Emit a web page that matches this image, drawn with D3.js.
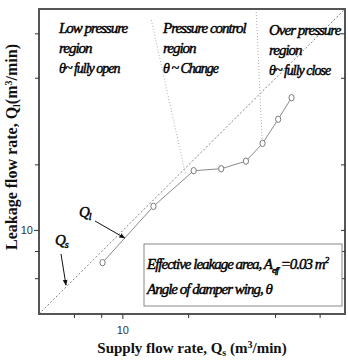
<!DOCTYPE html>
<html>
<head>
<meta charset="utf-8">
<script src="https://cdn.jsdelivr.net/npm/d3@7"></script>
<style>
  body { margin: 0; background: #fff; }
  svg text { font-family: "Liberation Serif", "Times New Roman", serif; }
  .note { font-style: italic; font-size: 15px; letter-spacing: -1px; fill: #000; stroke: #000; stroke-width: 0.45px; }
</style>
</head>
<body>
<svg id="chart" width="348" height="361"></svg>
<script>
// measured leakage vs supply flow rate (m3/min)
var supply = [8.07, 13.8, 21.1, 28.2, 36.6, 43.6, 51.4, 59.2];
var leakage = [7.11, 12.9, 18.8, 19.2, 20.8, 25.1, 32.4, 40.7];
var xTicks = [6, 8, 10, 20, 50, 80];
var yTicks = [6, 8, 10, 20, 50, 80];
var labelTicks = [10];
var axisDomain = [4.13, 104];
// region borders, in data units
var borderLow = [[13.5, 92.6], [19.3, 18.3]];
var borderHigh = [[40.8, 100.7], [43.4, 26]];

var svg = d3.select("#chart");
var pl = 39, pr = 345, pt = 9, pb = 314;

var x = d3.scaleLog().domain(axisDomain).range([pl, pr]);
var y = d3.scaleLog().domain(axisDomain).range([pb, pt]);

svg.append("defs").append("marker")
  .attr("id", "arr").attr("viewBox", "0 0 10 10").attr("refX", 9).attr("refY", 5)
  .attr("markerWidth", 6).attr("markerHeight", 6).attr("orient", "auto")
  .append("path").attr("d", "M0,1L10,5L0,9z").attr("fill", "#111");

// Qs = Ql diagonal
svg.append("line")
  .attr("x1", x(axisDomain[0])).attr("y1", y(axisDomain[0]))
  .attr("x2", x(axisDomain[1])).attr("y2", y(axisDomain[1]))
  .attr("stroke", "#808080").attr("stroke-width", 1).attr("stroke-dasharray", "2,2");

[borderLow, borderHigh].forEach(function(b) {
  svg.append("line")
    .attr("x1", x(b[0][0])).attr("y1", y(b[0][1]))
    .attr("x2", x(b[1][0])).attr("y2", y(b[1][1]))
    .attr("stroke", "#b0b0b0").attr("stroke-width", 1).attr("stroke-dasharray", "1,2");
});

var pts = supply.map(function(s, i) { return [s, leakage[i]]; });

svg.append("path")
  .attr("d", d3.line().x(function(d) { return x(d[0]); }).y(function(d) { return y(d[1]); })(pts))
  .attr("fill", "none").attr("stroke", "#8a8a8a").attr("stroke-width", 1);

svg.selectAll("ellipse.pt").data(pts).enter().append("ellipse")
  .attr("class", "pt")
  .attr("cx", function(d) { return x(d[0]); })
  .attr("cy", function(d) { return y(d[1]); })
  .attr("rx", 2.6).attr("ry", 3.2)
  .attr("fill", "#fff").attr("stroke", "#7a7a7a").attr("stroke-width", 1);

// frame
svg.append("rect")
  .attr("x", pl).attr("y", pt).attr("width", pr - pl).attr("height", pb - pt)
  .attr("fill", "none").attr("stroke", "#555").attr("stroke-width", 2);

// ticks
var xAxis = svg.append("g");
xAxis.selectAll("line").data(xTicks).enter().append("line")
  .attr("x1", function(d) { return x(d); }).attr("x2", function(d) { return x(d); })
  .attr("y1", pb).attr("y2", function(d) { return labelTicks.indexOf(d) >= 0 ? pb + 5 : pb + 4; })
  .attr("stroke", "#333").attr("stroke-width", 1);
xAxis.selectAll("text").data(labelTicks).enter().append("text")
  .attr("x", function(d) { return x(d); }).attr("y", pb + 20)
  .attr("text-anchor", "middle").style("font-family", "Liberation Sans, Arial, sans-serif")
  .style("font-size", "11px").attr("fill", "#333").text(function(d) { return d; });

var yAxis = svg.append("g");
yAxis.selectAll("line.l").data(yTicks).enter().append("line")
  .attr("x1", pl).attr("x2", function(d) { return labelTicks.indexOf(d) >= 0 ? pl - 5 : pl - 4; })
  .attr("y1", function(d) { return y(d); }).attr("y2", function(d) { return y(d); })
  .attr("stroke", "#333").attr("stroke-width", 1);
yAxis.selectAll("line.r").data(yTicks).enter().append("line")
  .attr("x1", pr).attr("x2", pr - 4)
  .attr("y1", function(d) { return y(d); }).attr("y2", function(d) { return y(d); })
  .attr("stroke", "#333").attr("stroke-width", 1);
yAxis.selectAll("text").data(labelTicks).enter().append("text")
  .attr("x", pl - 6).attr("y", function(d) { return y(d) + 4; })
  .attr("text-anchor", "end").style("font-family", "Liberation Sans, Arial, sans-serif")
  .style("font-size", "11px").attr("fill", "#333").text(function(d) { return d; });

// region notes
var notes = [
  [59, ["Low pressure", "region", "\u03b8~ fully open"]],
  [163, ["Pressure control", "region", "\u03b8 ~ Change"]],
  [269, ["Over pressure", "region", "\u03b8~ fully close"]]
];
notes.forEach(function(n, k) {
  n[1].forEach(function(t, i) {
    svg.append("text").attr("class", "note")
      .attr("x", n[0]).attr("y", 33 + (k == 2 ? 2 : 0) + i * 20)
      .style("font-size", i == 2 ? "14px" : "15px")
      .text(t);
  });
});

// legend box
svg.append("rect").attr("x", 144).attr("y", 244).attr("width", 198).attr("height", 62)
  .attr("fill", "#fff").attr("stroke", "#888").attr("stroke-width", 1);
var l1 = svg.append("text").attr("class", "note").attr("x", 147).attr("y", 269);
l1.append("tspan").text("Effective leakage area, A");
l1.append("tspan").attr("dy", 4).style("font-size", "9px").text("eff");
l1.append("tspan").attr("dy", -4).text(" =0.03 m");
l1.append("tspan").attr("dy", -6).style("font-size", "9px").text("2");
svg.append("text").attr("class", "note").attr("x", 147).attr("y", 294)
  .text("Angle of damper wing, \u03b8");

// Ql and Qs pointers
var ql = svg.append("text").attr("class", "note").attr("x", 79).attr("y", 217);
ql.append("tspan").text("Q");
ql.append("tspan").attr("dy", 3).style("font-size", "10px").text("l");
svg.append("line").attr("x1", 95).attr("y1", 221).attr("x2", x(10.2)).attr("y2", y(9.22))
  .attr("stroke", "#111").attr("stroke-width", 1).attr("marker-end", "url(#arr)");

var qs = svg.append("text").attr("class", "note").attr("x", 55).attr("y", 245);
qs.append("tspan").text("Q");
qs.append("tspan").attr("dy", 3).style("font-size", "10px").text("s");
svg.append("line").attr("x1", 61).attr("y1", 254).attr("x2", x(5.49)).attr("y2", y(5.49) - 2)
  .attr("stroke", "#111").attr("stroke-width", 1).attr("marker-end", "url(#arr)");

// axis titles
var xt = svg.append("text").attr("x", 192).attr("y", 353).attr("text-anchor", "middle")
  .style("font-size", "15px").style("font-weight", "bold").attr("fill", "#111");
xt.append("tspan").text("Supply flow rate, Q");
xt.append("tspan").attr("dy", 3).style("font-size", "10px").text("s");
xt.append("tspan").attr("dy", -3).text(" (m");
xt.append("tspan").attr("dy", -5).style("font-size", "10px").text("3");
xt.append("tspan").attr("dy", 5).text("/min)");

var yt = svg.append("text").attr("transform", "translate(17,147) rotate(-90)").attr("text-anchor", "middle")
  .style("font-size", "16px").style("font-weight", "bold").attr("fill", "#111");
yt.append("tspan").text("Leakage flow rate, Q");
yt.append("tspan").attr("dy", 3).style("font-size", "10px").text("l");
yt.append("tspan").attr("dy", -3).text("(m");
yt.append("tspan").attr("dy", -5).style("font-size", "10px").text("3");
yt.append("tspan").attr("dy", 5).text("/min)");
</script>
</body>
</html>
